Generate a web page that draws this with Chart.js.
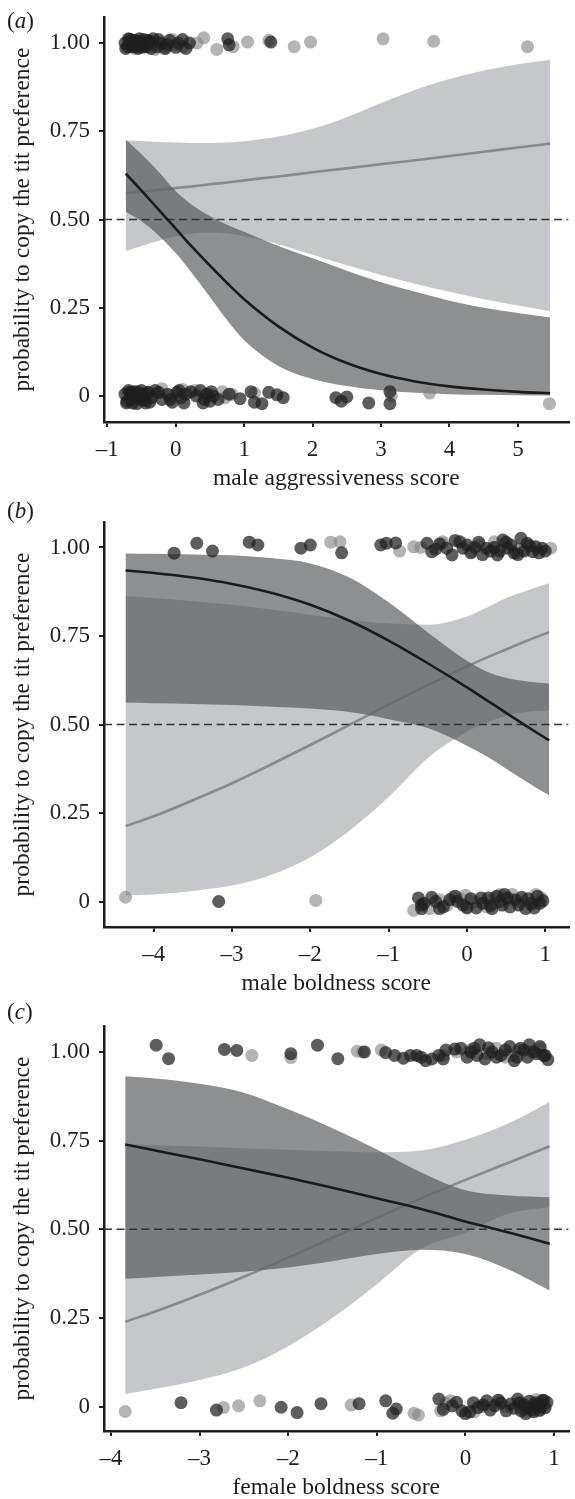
<!DOCTYPE html>
<html>
<head>
<meta charset="utf-8">
<script src="https://cdn.jsdelivr.net/npm/chart.js@4.4.0/dist/chart.umd.min.js"></script>
<style>
html,body{margin:0;padding:0;background:#fff;width:575px;height:1499px;overflow:hidden;}
.panel{position:absolute;left:0;width:575px;height:500px;}
.lab{position:absolute;left:7px;font-family:"Liberation Serif",serif;font-size:23px;line-height:23px;color:#1e1e1e;white-space:nowrap;}
</style>
</head>
<body>
<div class="panel" style="top:0px"><canvas id="ca" width="575" height="500"></canvas></div>
<div class="panel" style="top:505px"><canvas id="cb" width="575" height="500"></canvas></div>
<div class="panel" style="top:1009px"><canvas id="cc" width="575" height="500"></canvas></div>
<div class="lab" style="top:9px">(<i>a</i>)</div>
<div class="lab" style="top:499px">(<i>b</i>)</div>
<div class="lab" style="top:1000px">(<i>c</i>)</div>
<script>
// ---------- shared axis data ----------
const yTicks = [0, 0.25, 0.5, 0.75, 1];
const yTickLabels = ['0', '0.25', '0.50', '0.75', '1.00'];
const yTitle = 'probability to copy the tit preference';
const refLevel = 0.5;

// ---------- panel (a): male aggressiveness ----------
const aTitle = 'male aggressiveness score';
const aTicks = [-1, 0, 1, 2, 3, 4, 5];
const aXRange = [-1.048, 5.739];
const aYRange = [-0.074, 1.074];
const aX         = [-0.73, -0.5, -0.25, 0, 0.25, 0.5, 0.75, 1, 1.5, 2, 2.5, 3, 3.5, 4, 4.5, 5, 5.47];
const aDarkFit   = [0.63, 0.582, 0.528, 0.474, 0.42, 0.369, 0.32, 0.274, 0.197, 0.137, 0.093, 0.062, 0.041, 0.027, 0.018, 0.0115, 0.0077];
const aDarkLow   = [0.522, 0.495, 0.455, 0.405, 0.345, 0.28, 0.215, 0.158, 0.085, 0.048, 0.028, 0.016, 0.009, 0.005, 0.003, 0.002, 0.001];
const aDarkHigh  = [0.726, 0.685, 0.635, 0.58, 0.54, 0.51, 0.485, 0.465, 0.425, 0.39, 0.355, 0.322, 0.295, 0.27, 0.25, 0.235, 0.222];
const aLightFit  = [0.575, 0.579, 0.584, 0.589, 0.594, 0.60, 0.605, 0.611, 0.622, 0.634, 0.645, 0.657, 0.668, 0.68, 0.692, 0.704, 0.715];
const aLightLow  = [0.41, 0.425, 0.44, 0.452, 0.46, 0.463, 0.46, 0.453, 0.43, 0.40, 0.37, 0.343, 0.318, 0.295, 0.274, 0.256, 0.24];
const aLightHigh = [0.724, 0.722, 0.72, 0.718, 0.717, 0.717, 0.718, 0.722, 0.735, 0.757, 0.79, 0.83, 0.868, 0.898, 0.922, 0.94, 0.953];
const aDarkPtX = [-0.74, -0.70, -0.66, -0.62, -0.58, -0.55, -0.51, -0.47, -0.43, -0.38, -0.33, -0.27, -0.22, -0.15, -0.09, 0.04, 0.15, 0.20, 0.76, 0.78, 1.39,
  -0.73, -0.69, -0.64, -0.60, -0.57, -0.53, -0.49, -0.45, -0.41, -0.36, -0.25, -0.12, 0.0, 0.10,
  -0.74, -0.71, -0.67, -0.63, -0.60, -0.56, -0.52, -0.48, -0.44, -0.40, -0.35, -0.30, -0.20, -0.12, -0.05, 0.02, 0.08, 0.12, 0.22, 0.30,
  0.36, 0.42, 0.46, 0.50, 0.55, 0.62, 0.78, 0.94, 1.10, 1.15, 1.26, 1.36, 1.48, 1.57, 2.34, 2.42, 2.50, 2.82, 3.13, 3.13,
  -0.72, -0.69, -0.65, -0.61, -0.57, -0.54, -0.50, -0.46, -0.42, -0.38, -0.25, -0.08, 0.05, 0.15, 0.40, 0.52];
const aDarkPtY = [1.0, 0.99, 1.01, 0.995, 1.005, 0.985, 1.0, 1.01, 0.99, 1.005, 1.012, 0.99, 1.0, 0.985, 1.008, 1.0, 0.985, 1.0, 1.012, 0.995, 1.003,
  0.985, 1.012, 0.99, 1.008, 0.99, 1.012, 0.988, 0.995, 1.008, 0.985, 1.01, 0.995, 0.988, 1.01,
  0.005, -0.015, 0.01, -0.02, 0.0, 0.012, -0.01, 0.005, -0.02, 0.01, -0.005, 0.015, -0.01, 0.005, -0.018, 0.01, -0.005, -0.02, 0.012, 0.0,
  0.015, -0.01, 0.005, -0.015, 0.0, -0.01, 0.005, -0.008, 0.012, -0.018, -0.022, 0.01, 0.003, -0.005, -0.005, -0.015, -0.003, -0.02, 0.012, -0.022,
  -0.02, 0.015, -0.01, 0.012, -0.022, -0.005, 0.015, -0.012, 0.008, -0.018, 0.01, -0.01, 0.015, 0.005, -0.02, 0.012];
const aLightPtX = [-0.68, -0.60, -0.46, -0.38, -0.30, -0.17, -0.05, -0.01, 0.10, 0.31, 0.41, 0.60, 0.84, 1.05, 1.36, 1.73, 1.97, 3.03, 3.77, 5.14,
  -0.65, -0.45, -0.27, -0.20, -0.08, 0.10, 0.28, 0.45, 0.68, 0.72, 0.82, 1.15, 3.15, 3.71, 5.46];
const aLightPtY = [1.01, 0.985, 0.992, 1.005, 0.982, 0.985, 1.01, 0.995, 0.99, 1.0, 1.015, 0.982, 0.99, 1.003, 1.008, 0.99, 1.003, 1.012, 1.005, 0.99,
  0.01, -0.01, 0.008, 0.02, 0.0, 0.018, 0.015, 0.005, 0.012, -0.005, 0.005, 0.008, 0.0, 0.008, -0.022];

// ---------- panel (b): male boldness ----------
const bTitle = 'male boldness score';
const bTicks = [-4, -3, -2, -1, 0, 1];
const bXRange = [-4.635, 1.297];
const bYRange = [-0.072, 1.072];
const bX         = [-4.36, -4, -3.5, -3, -2.5, -2, -1.5, -1, -0.5, 0, 0.25, 0.5, 0.75, 1.05];
const bDarkFit   = [0.935, 0.928, 0.915, 0.897, 0.872, 0.838, 0.793, 0.737, 0.673, 0.605, 0.569, 0.533, 0.497, 0.455];
const bDarkLow   = [0.562, 0.56, 0.558, 0.555, 0.55, 0.545, 0.535, 0.515, 0.49, 0.44, 0.41, 0.375, 0.34, 0.30];
const bDarkHigh  = [0.983, 0.982, 0.98, 0.978, 0.97, 0.955, 0.915, 0.845, 0.76, 0.68, 0.65, 0.632, 0.622, 0.616];
const bLightFit  = [0.213, 0.241, 0.286, 0.334, 0.387, 0.442, 0.499, 0.556, 0.611, 0.664, 0.689, 0.712, 0.735, 0.761];
const bLightLow  = [0.017, 0.02, 0.03, 0.045, 0.075, 0.125, 0.20, 0.295, 0.405, 0.48, 0.505, 0.525, 0.535, 0.54];
const bLightHigh = [0.863, 0.857, 0.848, 0.838, 0.825, 0.81, 0.795, 0.785, 0.782, 0.805, 0.83, 0.857, 0.877, 0.90];
const bDarkPtX = [-3.74, -3.45, -3.25, -2.78, -2.67, -2.12, -2.0, -1.60, -1.10, -1.03, -0.91, -0.51, -0.45, -0.26, -0.19, -0.09, -0.05, 0.0, 0.25, 0.39, 0.46, 0.52, 0.56, 0.69, 0.77, 0.84, 0.88, 0.96, -0.40, 0.10, 0.30, 0.60,
  -0.35, -0.15, 0.05, 0.15, 0.20, 0.35, 0.42, 0.50, 0.65, 0.73, 0.80, 0.92, 1.0,
  -3.17, -0.62, -0.58, -0.55, -0.40, -0.30, -0.22, -0.12, -0.05, 0.05, 0.12, 0.20, 0.27, 0.32, 0.38, 0.45, 0.48, 0.55, 0.62, 0.70, 0.75, 0.82, 0.90, 0.97,
  -0.58, -0.45, -0.35, -0.15, 0.0, 0.18, 0.30, 0.42, 0.52, 0.66, 0.78, 0.86, 0.93];
const bDarkPtY = [0.984, 1.012, 0.99, 1.015, 1.007, 0.998, 1.007, 0.985, 1.007, 1.012, 1.013, 1.012, 0.988, 0.998, 0.979, 1.016, 0.998, 1.007, 0.998, 0.979, 1.021, 0.998, 1.007, 1.026, 1.012, 0.988, 1.002, 0.998, 0.995, 1.0, 0.99, 0.985,
  1.01, 1.02, 0.985, 1.015, 0.98, 1.0, 0.99, 1.015, 0.98, 0.99, 1.005, 0.985, 0.99,
  0.0, 0.01, -0.02, -0.005, 0.0, -0.015, 0.005, 0.0, -0.01, 0.008, -0.018, -0.005, 0.01, -0.02, 0.015, -0.01, 0.02, -0.015, 0.005, 0.012, -0.02, -0.005, 0.015, 0.002,
  -0.01, 0.012, -0.02, 0.015, -0.018, 0.01, -0.012, 0.0, 0.01, -0.01, 0.008, -0.018, -0.005];
const bLightPtX = [-1.74, -1.62, -0.86, -0.68, -0.59, -0.32, -0.31, 0.06, 0.16, 0.34, 0.35, 0.63, 0.66, 0.71, 1.07,
  -4.36, -1.93, -0.68, -0.35, -0.25, -0.18, -0.08, 0.0, 0.10, 0.35, 0.42, 0.52, 0.65, 0.82, 0.88,
  -0.48, -0.02, 0.25, 0.58, 0.95];
const bLightPtY = [1.015, 1.016, 0.99, 1.002, 1.0, 1.012, 1.016, 0.988, 1.007, 1.0, 1.016, 0.984, 0.995, 0.993, 0.998,
  0.012, 0.003, -0.025, 0.005, -0.01, 0.012, 0.008, -0.015, 0.0, 0.01, 0.02, 0.005, 0.0, -0.01, 0.02,
  -0.02, 0.018, -0.015, 0.02, 0.01];

// ---------- panel (c): female boldness ----------
const cTitle = 'female boldness score';
const cTicks = [-4, -3, -2, -1, 0, 1];
const cXRange = [-4.079, 1.163];
const cYRange = [-0.069, 1.073];
const cX         = [-3.84, -3.5, -3, -2.5, -2, -1.5, -1, -0.5, 0, 0.5, 0.95];
const cDarkFit   = [0.739, 0.722, 0.697, 0.671, 0.645, 0.617, 0.587, 0.557, 0.522, 0.49, 0.459];
const cDarkLow   = [0.36, 0.365, 0.372, 0.38, 0.392, 0.41, 0.43, 0.442, 0.43, 0.385, 0.327];
const cDarkHigh  = [0.931, 0.925, 0.91, 0.885, 0.838, 0.785, 0.725, 0.66, 0.61, 0.595, 0.59];
const cLightFit  = [0.239, 0.268, 0.315, 0.366, 0.42, 0.476, 0.532, 0.587, 0.639, 0.689, 0.734];
const cLightLow  = [0.035, 0.05, 0.075, 0.11, 0.17, 0.25, 0.345, 0.445, 0.49, 0.545, 0.562];
const cLightHigh = [0.739, 0.737, 0.733, 0.728, 0.724, 0.72, 0.717, 0.722, 0.752, 0.80, 0.859];
const cDarkPtX = [-3.49, -3.35, -2.72, -2.58, -1.97, -1.67, -1.44, -1.14, -0.90, -0.80, -0.62, -0.50, -0.45, -0.38, -0.30, -0.22, -0.12, -0.05, 0.02, 0.10, 0.16, 0.22, 0.30, 0.40, 0.50, 0.58, 0.66, 0.72, 0.80, 0.88, 0.93,
  -0.70, -0.55, -0.25, 0.06, 0.13, 0.26, 0.35, 0.45, 0.55, 0.62, 0.70, 0.77, 0.84, 0.90,
  -3.21, -2.81, -2.08, -1.90, -1.63, -1.20, -0.90, -0.82, -0.78, -0.30, -0.15, -0.04, 0.09, 0.14, 0.24, 0.33, 0.46, 0.51, 0.59, 0.63, 0.70, 0.79, 0.87, 0.90, 0.05, 0.40, 0.66, 0.75, 0.85, 0.92,
  -0.25, -0.10, 0.0, 0.20, 0.28, 0.37, 0.55, 0.61, 0.68, 0.72, 0.77, 0.81, 0.84, 0.88];
const cDarkPtY = [1.019, 0.981, 1.007, 1.004, 0.995, 1.019, 0.981, 1.0, 0.998, 0.99, 0.99, 0.985, 0.975, 0.98, 0.99, 1.005, 1.008, 1.01, 0.985, 1.01, 1.02, 0.98, 1.0, 0.99, 1.015, 0.985, 1.005, 1.02, 0.995, 0.99, 0.978,
  0.982, 0.99, 0.98, 1.0, 0.99, 1.012, 0.985, 1.005, 0.975, 1.01, 0.985, 1.0, 1.015, 0.99,
  0.011, -0.01, -0.002, -0.017, 0.008, 0.008, 0.016, -0.019, -0.007, 0.021, 0.002, -0.012, 0.011, -0.003, 0.016, 0.002, -0.012, 0.007, 0.021, -0.012, -0.003, 0.011, 0.016, -0.003, -0.015, 0.01, 0.005, -0.01, 0.0, 0.012,
  -0.008, 0.012, -0.02, 0.005, -0.01, 0.018, -0.005, 0.01, -0.02, 0.015, -0.015, 0.005, -0.01, 0.018];
const cLightPtX = [-2.41, -1.97, -1.22, -1.16, -0.95, -0.25, -0.10, 0.05, 0.25, 0.35, 0.45, 0.52, 0.60, 0.75, 0.85,
  -3.84, -2.73, -2.56, -2.32, -1.29, -0.58, -0.53, -0.28, -0.17, 0.38, 0.75, 0.83, 0.20, 0.60,
  -0.22, 0.10, 0.45, 0.68, 0.80, 0.88];
const cLightPtY = [0.99, 0.984, 1.002, 1.0, 1.005, 0.99, 1.0, 1.005, 0.995, 1.01, 0.985, 0.99, 1.005, 1.0, 1.01,
  -0.014, -0.003, 0.002, 0.016, 0.004, -0.019, -0.024, -0.012, 0.016, 0.016, 0.002, -0.012, 0.0, 0.01,
  0.01, -0.015, 0.0, -0.01, 0.02, -0.005];

// ---------- styling ----------
const INK = '#1e1e1e';
const FONT = '"Liberation Serif", "Times New Roman", serif';
const LIGHT_BAND = 'rgb(198,199,202)';
const DARK_BAND = 'rgba(79,80,83,0.64)';
const LIGHT_LINE = 'rgba(100,100,100,0.62)';
const DARK_LINE = '#1b1b1b';
const LIGHT_PT = 'rgba(130,130,130,0.6)';
const DARK_PT = 'rgba(30,30,30,0.72)';

function pts(xs, ys) { return xs.map((x, i) => ({x: x, y: ys[i]})); }
function fmtX(v) { return v < 0 ? '\u2013' + Math.abs(v) : String(v); }

function band(xs, ys, fill, color, order) {
  return {type: 'line', data: pts(xs, ys), borderWidth: 0, borderColor: 'rgba(0,0,0,0)', pointRadius: 0,
    fill: fill, backgroundColor: color, order: order, cubicInterpolationMode: 'monotone'};
}
function curve(xs, ys, color, order) {
  return {type: 'line', data: pts(xs, ys), borderWidth: 2.6, borderColor: color, pointRadius: 0,
    fill: false, order: order, cubicInterpolationMode: 'monotone', borderCapStyle: 'butt'};
}
function dots(xs, ys, color, order) {
  return {type: 'scatter', data: pts(xs, ys), showLine: false, pointRadius: 6.5, pointHoverRadius: 6.5,
    pointBorderWidth: 0, pointBackgroundColor: color, backgroundColor: color, borderColor: 'rgba(0,0,0,0)', order: order};
}

function makePanel(id, p) {
  const datasets = [
    band(p.x, p.lightLow, false, 'rgba(0,0,0,0)', 30),
    band(p.x, p.lightHigh, '-1', LIGHT_BAND, 29),
    band(p.x, p.darkLow, false, 'rgba(0,0,0,0)', 28),
    band(p.x, p.darkHigh, '-1', DARK_BAND, 27),
    {type: 'line', data: [{x: p.xr[0], y: refLevel}, {x: p.xr[1], y: refLevel}], borderColor: '#333333',
      borderWidth: 1.6, borderDash: [8, 4.5], pointRadius: 0, fill: false, order: 20},
    curve(p.x, p.lightFit, LIGHT_LINE, 15),
    curve(p.x, p.darkFit, DARK_LINE, 14),
    dots(p.lightPtX, p.lightPtY, LIGHT_PT, 5),
    dots(p.darkPtX, p.darkPtY, DARK_PT, 4)
  ];
  new Chart(document.getElementById(id), {
    type: 'line',
    data: {datasets: datasets},
    options: {
      responsive: false, animation: false, devicePixelRatio: 1,
      layout: {padding: {top: 17, right: 0, bottom: 0, left: 0}},
      plugins: {legend: {display: false}, tooltip: {enabled: false}},
      elements: {line: {tension: 0}},
      scales: {
        x: {
          type: 'linear', min: p.xr[0], max: p.xr[1],
          afterBuildTicks: s => { s.ticks = p.ticks.map(v => ({value: v})); },
          afterFit: s => { s.height = 78; s.paddingLeft = 0; s.paddingRight = 0; },
          border: {display: true, color: INK, width: 2.5},
          grid: {display: true, drawOnChartArea: false, drawTicks: true, tickLength: 5, color: INK, lineWidth: 2},
          ticks: {autoSkip: false, maxRotation: 0, minRotation: 0, padding: 9, color: INK,
            font: {family: FONT, size: 23, lineHeight: 1.2}, callback: v => fmtX(v)},
          title: {display: true, text: p.title, color: INK, font: {family: FONT, size: 23.5, lineHeight: 1.2},
            padding: {top: 0, bottom: 7}}
        },
        y: {
          type: 'linear', min: p.yr[0], max: p.yr[1],
          afterBuildTicks: s => { s.ticks = yTicks.map(v => ({value: v})); },
          afterFit: s => { s.width = 104; s.paddingTop = 0; s.paddingBottom = 0; },
          border: {display: true, color: INK, width: 2.5},
          grid: {display: true, drawOnChartArea: false, drawTicks: true, tickLength: 5, color: INK, lineWidth: 2},
          ticks: {autoSkip: false, padding: 9, color: INK, font: {family: FONT, size: 23, lineHeight: 1.2},
            callback: v => { const i = yTicks.indexOf(v); return i >= 0 ? yTickLabels[i] : ''; }},
          title: {display: true, text: yTitle, color: INK, font: {family: FONT, size: 23.5, lineHeight: 1.2},
            padding: {top: 8.5, bottom: 0}}
        }
      }
    }
  });
}

makePanel('ca', {x: aX, darkFit: aDarkFit, darkLow: aDarkLow, darkHigh: aDarkHigh, lightFit: aLightFit, lightLow: aLightLow, lightHigh: aLightHigh,
  darkPtX: aDarkPtX, darkPtY: aDarkPtY, lightPtX: aLightPtX, lightPtY: aLightPtY, xr: aXRange, yr: aYRange, ticks: aTicks, title: aTitle});
makePanel('cb', {x: bX, darkFit: bDarkFit, darkLow: bDarkLow, darkHigh: bDarkHigh, lightFit: bLightFit, lightLow: bLightLow, lightHigh: bLightHigh,
  darkPtX: bDarkPtX, darkPtY: bDarkPtY, lightPtX: bLightPtX, lightPtY: bLightPtY, xr: bXRange, yr: bYRange, ticks: bTicks, title: bTitle});
makePanel('cc', {x: cX, darkFit: cDarkFit, darkLow: cDarkLow, darkHigh: cDarkHigh, lightFit: cLightFit, lightLow: cLightLow, lightHigh: cLightHigh,
  darkPtX: cDarkPtX, darkPtY: cDarkPtY, lightPtX: cLightPtX, lightPtY: cLightPtY, xr: cXRange, yr: cYRange, ticks: cTicks, title: cTitle});
</script>
</body>
</html>
